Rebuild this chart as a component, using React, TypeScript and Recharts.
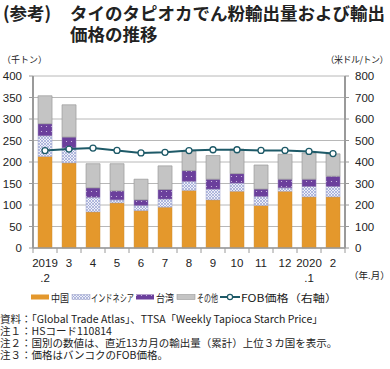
import React from 'react';
import { ComposedChart, Bar, Line, XAxis, YAxis, CartesianGrid } from 'recharts';

// 月 (2019.2 - 2020.2)
const months = ['2019.2', '3', '4', '5', '6', '7', '8', '9', '10', '11', '12', '2020.1', '2'];

// 輸出量 (千トン)
const china = [213, 198, 84, 105, 87, 95, 134, 112, 132, 99, 132, 119, 119];
const indonesia = [48, 35, 34, 7, 12, 19, 21, 25, 19, 21, 8, 24, 24];
const taiwan = [28, 25, 22, 21, 13, 22, 25, 23, 22, 17, 20, 17, 24];
const others = [65, 75, 56, 63, 48, 55, 45, 55, 57, 56, 58, 61, 52];

// FOB価格 (米ドル/トン)
const fobPrice = [453, 460, 465, 454, 442, 445, 453, 457, 457, 454, 454, 449, 439];

const leftTicks = [0, 50, 100, 150, 200, 250, 300, 350, 400];
const rightTicks = [0, 100, 200, 300, 400, 500, 600, 700, 800];

const chartData = months.map((m, i) => ({
  month: m,
  china: china[i],
  indonesia: indonesia[i],
  taiwan: taiwan[i],
  others: others[i],
  fob: fobPrice[i],
}));

const NUM_FONT = '"Liberation Sans", Arial, sans-serif';
const JP_FONT = '"Noto Sans CJK JP", "Noto Sans", sans-serif';

const ORANGE = '#e4982c';
const PURPLE = '#6b3f9c';
const GRAY = '#c4c4c4';
const LINE = '#1e5a68';
const AXIS = '#9a9a9a';

const MonthTick = (props: any) => {
  const { x, y, payload, index } = props;
  const [top, bottom] = String(payload.value).split('.');
  const half = 12;
  return (
    <g>
      <line x1={x - half} x2={x - half} y1={y} y2={y + 5} stroke={AXIS} strokeWidth={1} />
      {index === months.length - 1 && (
        <line x1={x + half} x2={x + half} y1={y} y2={y + 5} stroke={AXIS} strokeWidth={1} />
      )}
      <text x={x} y={y + 19} textAnchor="middle" fontSize={11.5} fill="#222" fontFamily={NUM_FONT}>
        {top}
      </text>
      {bottom && (
        <text x={x} y={y + 34} textAnchor="middle" fontSize={11.5} fill="#222" fontFamily={NUM_FONT}>
          {'.' + bottom}
        </text>
      )}
    </g>
  );
};

const Patterns = ({ suffix }: { suffix: string }) => (
  <defs>
    <pattern id={`indoPat${suffix}`} width={3} height={3} patternUnits="userSpaceOnUse">
      <rect width={3} height={3} fill="#eef0f8" />
      <path d="M0,3 L3,0 M0,0 L3,3" stroke="#8a94cc" strokeWidth={0.6} />
    </pattern>
    <pattern id={`taiwanPat${suffix}`} width={5} height={5} patternUnits="userSpaceOnUse">
      <rect width={5} height={5} fill={PURPLE} />
      <circle cx={1.5} cy={1.5} r={0.6} fill="#d8cce8" />
    </pattern>
  </defs>
);

// legend: marker x, text x, text width
const legendNames = ['中国', 'インドネシア', '台湾', 'その他', 'FOB価格（右軸）'];
const legendMarkerX = [31, 72, 136, 177, 220];
const legendTextX = [51, 91, 156, 197, 241];
const legendTextW = [18, 43, 18, 21, 96];

const LegendRow = () => (
  <svg width={390} height={16} style={{ position: 'absolute', left: 0, top: 289 }}>
    <Patterns suffix="Legend" />
    <rect x={legendMarkerX[0]} y={5.5} width={18} height={5} fill={ORANGE} />
    <rect x={legendMarkerX[1]} y={5.5} width={18} height={5} fill="url(#indoPatLegend)" stroke="#9aa0c8" strokeWidth={0.5} />
    <rect x={legendMarkerX[2]} y={5.5} width={18} height={5} fill="url(#taiwanPatLegend)" />
    <rect x={legendMarkerX[3]} y={5.5} width={18} height={5} fill={GRAY} stroke={AXIS} strokeWidth={0.6} />
    <line x1={legendMarkerX[4]} x2={legendMarkerX[4] + 20} y1={8} y2={8} stroke={LINE} strokeWidth={2} />
    <circle cx={legendMarkerX[4] + 10} cy={8} r={2.6} fill="#fff" stroke={LINE} strokeWidth={1.2} />
    {legendNames.map((n, i) => (
      <text
        key={n}
        x={legendTextX[i]}
        y={12.5}
        fontSize={10.5}
        fontFamily={JP_FONT}
        fill="#222"
        textLength={legendTextW[i]}
        lengthAdjust="spacingAndGlyphs"
      >
        {n}
      </text>
    ))}
  </svg>
);

const notes = [
  '資料：「Global Trade Atlas」、TTSA「Weekly Tapioca Starch Price」',
  '注１：HSコード110814',
  '注２：国別の数値は、直近13カ月の輸出量（累計）上位３カ国を表示。',
  '注３：価格はバンコクのFOB価格。',
];

export default function App() {
  return (
    <div style={{ position: 'absolute', left: 0, top: 0, width: 390, height: 369, background: '#fff', overflow: 'hidden' }}>
      <div style={{ position: 'absolute', left: 3, top: 2, fontFamily: JP_FONT, fontWeight: 700, fontSize: 17.5, lineHeight: '22px', color: '#222', whiteSpace: 'nowrap' }}>
        <span>(参考)</span>
        <span style={{ position: 'absolute', left: 67, top: 0 }}>タイのタピオカでん粉輸出量および輸出</span>
      </div>
      <div style={{ position: 'absolute', left: 70, top: 23, fontFamily: JP_FONT, fontWeight: 700, fontSize: 17.5, lineHeight: '22px', color: '#222', whiteSpace: 'nowrap' }}>
        価格の推移
      </div>
      <div style={{ position: 'absolute', left: 2, top: 53, fontFamily: JP_FONT, fontSize: 9, color: '#222' }}>（千トン）</div>
      <div style={{ position: 'absolute', right: 2, top: 53, fontFamily: JP_FONT, fontSize: 9, color: '#222', letterSpacing: -0.5 }}>（米ドル/トン）</div>

      <div style={{ position: 'absolute', left: 0, top: 0 }}>
        <ComposedChart
          width={390}
          height={369}
          data={chartData}
          margin={{ top: 76, right: 0, left: 0, bottom: 91 }}
          barCategoryGap="21%"
        >
          <Patterns suffix="" />
          <CartesianGrid yAxisId="left" vertical={false} stroke="#b8b8b8" strokeWidth={1} />
          <XAxis
            dataKey="month"
            height={30}
            tickSize={0}
            tickMargin={0}
            interval={0}
            tick={<MonthTick />}
            axisLine={{ stroke: AXIS, strokeWidth: 1.5 }}
            tickLine={false}
          />
          <YAxis
            yAxisId="left"
            width={33}
            domain={[0, 400]}
            ticks={leftTicks}
            interval={0}
            tickSize={4}
            tickMargin={7}
            axisLine={{ stroke: AXIS, strokeWidth: 2 }}
            tickLine={{ stroke: AXIS }}
            tick={{ fontSize: 11.5, fill: '#222', fontFamily: NUM_FONT }}
          />
          <YAxis
            yAxisId="right"
            orientation="right"
            width={45}
            domain={[0, 800]}
            ticks={rightTicks}
            interval={0}
            tickSize={4}
            tickMargin={6}
            axisLine={{ stroke: AXIS, strokeWidth: 2 }}
            tickLine={{ stroke: AXIS }}
            tick={{ fontSize: 11.5, fill: '#222', fontFamily: NUM_FONT, textAnchor: 'start' }}
          />
          <Bar yAxisId="left" dataKey="china" stackId="a" fill={ORANGE} stroke="#c98a35" strokeWidth={0.4} isAnimationActive={false} />
          <Bar yAxisId="left" dataKey="indonesia" stackId="a" fill="url(#indoPat)" stroke="#9aa0c8" strokeWidth={0.5} isAnimationActive={false} />
          <Bar yAxisId="left" dataKey="taiwan" stackId="a" fill="url(#taiwanPat)" stroke="#8f7ab0" strokeWidth={0.5} isAnimationActive={false} />
          <Bar yAxisId="left" dataKey="others" stackId="a" fill={GRAY} stroke={AXIS} strokeWidth={0.7} isAnimationActive={false} />
          <Line
            yAxisId="right"
            dataKey="fob"
            type="linear"
            stroke={LINE}
            strokeWidth={2}
            dot={{ r: 3, fill: '#fff', stroke: LINE, strokeWidth: 1.3 }}
            isAnimationActive={false}
          />
        </ComposedChart>
      </div>

      <div style={{ position: 'absolute', left: 349, top: 268, fontFamily: JP_FONT, fontSize: 9.5, color: '#222' }}>（年.月）</div>

      <LegendRow />

      <svg width={390} height={60} style={{ position: 'absolute', left: 0, top: 309 }}>
        {notes.map((n, i) => (
          <text key={n} x={0} y={14 + i * 12} fontSize={10.5} fontFamily={JP_FONT} fill="#222">
            {n}
          </text>
        ))}
      </svg>
    </div>
  );
}
